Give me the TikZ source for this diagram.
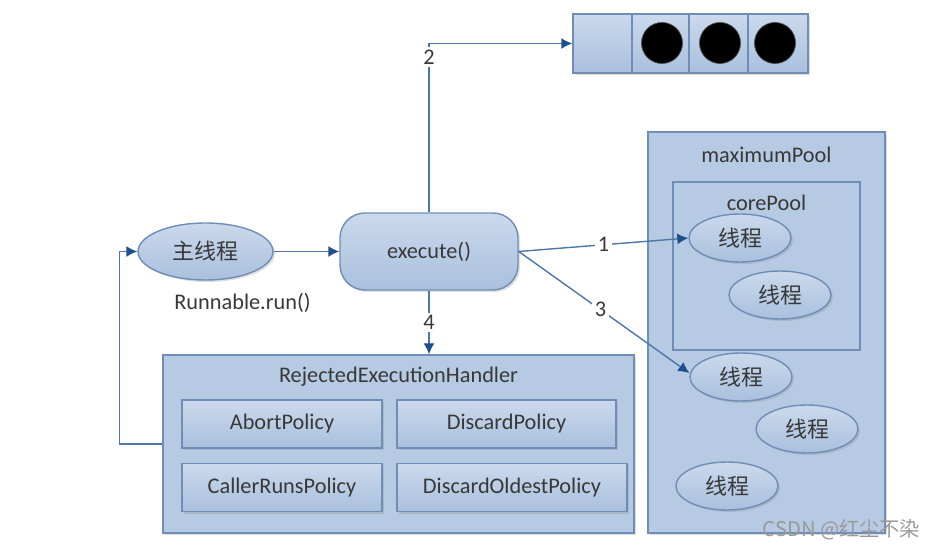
\documentclass[tikz,border=0pt]{standalone}
\usepackage{fontspec}
\setmainfont{Carlito}
\newfontfamily\cjk{Noto Sans CJK SC}
\usepackage{tikz}
\usetikzlibrary{arrows.meta}
\usetikzlibrary{shapes.geometric}
\usetikzlibrary{shadows}

\definecolor{boxline}{HTML}{6F8DB7}
\definecolor{boxtop}{HTML}{CBD9EC}
\definecolor{boxbot}{HTML}{A9C0DE}
\definecolor{poolfill}{HTML}{B7CAE3}
\definecolor{arrowline}{HTML}{4D77AB}
\definecolor{arrowtip}{HTML}{1F4E8C}
\definecolor{txt}{HTML}{383838}

\begin{document}
\begin{tikzpicture}[>/.tip={Latex[length=2.2mm,width=2.2mm,color=arrowtip]},
	font=\fontsize{12.7}{15}\selectfont, text=txt,
	shade box/.style={draw=boxline, thick, top color=boxtop, bottom color=boxbot,
		drop shadow={shadow xshift=0.04cm, shadow yshift=-0.04cm, opacity=0.25}},
	pool/.style={draw=boxline, thick, fill=poolfill, minimum width=#1},
	thread/.style={shade box, ellipse, minimum width=2.04cm, minimum height=0.96cm, inner sep=0pt, font=\cjk\fontsize{12.5}{15}\selectfont},
	policy/.style={shade box, rectangle, minimum height=0.96cm, minimum width=#1},
	num/.style={fill=white, inner sep=1.5pt},
	link/.style={->, draw=arrowline, thick}]
	\useasboundingbox (0,0) rectangle (18.68,-10.98);

	% queue
	\draw (13.81,-0.87) node (queue) [shade box, minimum width=4.7cm, minimum height=1.18cm] {};
	\foreach \x in {12.64,13.78,14.96}
		\draw [boxline, thick] (queue.north -| \x,0) -- (queue.south -| \x,0);
	\foreach \i/\x in {1/13.24,2/14.40,3/15.50}
		\draw (\x,-0.86) node (dot\i) [circle, fill=black, draw=black!70, minimum size=0.82cm, inner sep=0pt] {};

	% pools
	\draw (15.33,-6.65) node (maxpool) [pool=4.74cm, minimum height=8.02cm,
		drop shadow={shadow xshift=0.04cm, shadow yshift=-0.04cm, opacity=0.25}] {};
	\draw (15.33,-3.1) node (maxname) {maximumPool};
	\draw (15.33,-5.32) node (corepool) [pool=3.74cm, minimum height=3.36cm] {};
	\draw (15.33,-4.06) node (corename) {corePool};

	\draw (14.80,-4.76) node (t1) [thread] {线程};
	\draw (15.60,-5.90) node (t2) [thread] {线程};
	\draw (14.82,-7.54) node (t3) [thread] {线程};
	\draw (16.14,-8.58) node (t4) [thread] {线程};
	\draw (14.54,-9.72) node (t5) [thread] {线程};

	% caller and execute
	\draw (4.11,-5.03) node (main) [shade box, ellipse, minimum width=2.7cm, minimum height=1.14cm, font=\cjk\fontsize{12.5}{15}\selectfont] {主线程};
	\draw (4.85,-6.06) node (run) {Runnable.run()};
	\draw (8.58,-5.03) node (exec) [shade box, rounded corners=0.5cm, minimum width=3.56cm, minimum height=1.54cm] {execute()};

	% rejection handler
	\draw (7.97,-8.88) node (handler) [pool=9.42cm, minimum height=3.56cm,
		drop shadow={shadow xshift=0.04cm, shadow yshift=-0.04cm, opacity=0.25}] {};
	\draw (7.97,-7.54) node (hname) {RejectedExecutionHandler};
	\draw (5.64,-8.48) node (abort) [policy=4cm] {AbortPolicy};
	\draw (10.13,-8.48) node (discard) [policy=4.38cm] {DiscardPolicy};
	\draw (5.64,-9.75) node (callerruns) [policy=4cm] {CallerRunsPolicy};
	\draw (10.24,-9.75) node (oldest) [policy=4.6cm] {DiscardOldestPolicy};

	% connectors
	\draw[link] (main) -- (exec);
	\draw[link] (exec.north) |- node [num, pos=0.46] {2} (queue.west);
	\draw[link] (exec.east) -- node [num] {1} (t1.west);
	\draw[link] (exec.east) -- node [num, pos=0.48] {3} ([yshift=0.08cm]t3.west);
	\draw[link] (exec.south) -- node [num] {4} (exec.south |- handler.north);
	\draw[link] (handler.west) -- ++(-0.86,0) |- (main.west);

	\draw (16.83,-10.6) node (mark) [font=\cjk\fontsize{11.5}{14}\selectfont, text=gray!80] {CSDN @红尘不染};
\end{tikzpicture}
\end{document}
